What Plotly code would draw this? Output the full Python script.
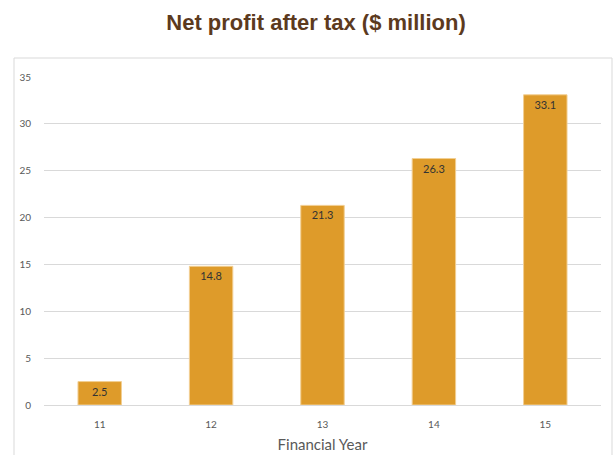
import plotly.graph_objects as go

years = ["11", "12", "13", "14", "15"]
profit = [2.5, 14.8, 21.3, 26.3, 33.1]
y_ticks = [0, 5, 10, 15, 20, 25, 30, 35]

L, R, T, B = 44, 15, 77, 50
W, H = 616, 455
pw, ph = W - L - R, H - T - B

fig = go.Figure(go.Bar(
    x=years, y=profit,
    text=[str(v) for v in profit],
    textposition="inside", insidetextanchor="end",
    textfont=dict(family="Lato, sans-serif", size=11, color="#333333"),
    marker=dict(color="#DE9B2A", line=dict(color="#F2CF93", width=1)),
    cliponaxis=False,
))

fig.update_layout(
    width=W, height=H,
    margin=dict(l=L, r=R, t=T, b=B, autoexpand=False),
    paper_bgcolor="white", plot_bgcolor="white",
    bargap=0.61,
    showlegend=False,
    title=dict(text="<b>Net profit after tax ($ million)</b>", x=0.513, xanchor="center",
               y=1 - 22 / H, yanchor="middle",
               font=dict(family="Liberation Sans, Arial, sans-serif", size=22, color="#5C3A1E")),
    xaxis=dict(
        automargin=False,
        title=dict(text="Financial Year", standoff=10,
                   font=dict(family="Lato, sans-serif", size=15, color="#595959")),
        tickfont=dict(family="Lato, sans-serif", size=10, color="#595959"),
        showline=True, linecolor="#D9D9D9", linewidth=1,
        ticks="outside", ticklen=10, tickcolor="rgba(0,0,0,0)",
        showgrid=False,
    ),
    yaxis=dict(
        automargin=False,
        range=[0, 35], tickvals=y_ticks,
        tickfont=dict(family="Lato, sans-serif", size=10, color="#595959"),
        gridcolor="#D9D9D9", gridwidth=1,
        zeroline=False,
        ticks="outside", ticklen=10, tickcolor="rgba(0,0,0,0)",
    ),
    shapes=[dict(
        type="rect", xref="paper", yref="paper",
        x0=(14 - L) / pw, x1=(612 - L) / pw,
        y0=-0.3, y1=(H - B - 58) / ph,
        line=dict(color="#D9D9D9", width=1), fillcolor="rgba(0,0,0,0)", layer="below",
    )],
)

fig.write_html("out.html")
